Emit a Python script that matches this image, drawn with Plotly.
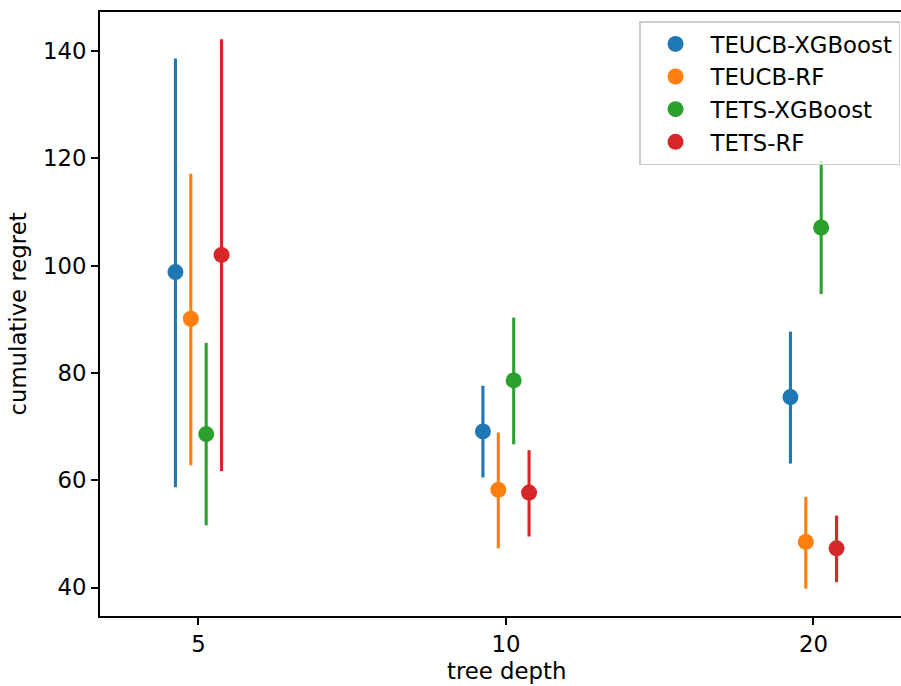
import plotly.graph_objects as go

# Tree depths compared (categorical x axis)
depths = ["5", "10", "20"]
methods = ["TEUCB-XGBoost", "TEUCB-RF", "TETS-XGBoost", "TETS-RF"]
colors = ["#1f77b4", "#ff7f0e", "#2ca02c", "#d62728"]

# Mean cumulative regret per method, one value per tree depth
teucb_xgb_mean = [98.8, 69.1, 75.5]
teucb_rf_mean = [90.1, 58.2, 48.5]
tets_xgb_mean = [68.6, 78.6, 107.1]
tets_rf_mean = [102.0, 57.7, 47.3]

# Confidence interval bounds
teucb_xgb_low = [58.7, 60.5, 63.1]
teucb_xgb_high = [138.6, 77.6, 87.7]
teucb_rf_low = [62.8, 47.3, 39.8]
teucb_rf_high = [117.1, 68.9, 56.9]
tets_xgb_low = [51.6, 66.7, 94.7]
tets_xgb_high = [85.6, 90.3, 119.5]
tets_rf_low = [61.7, 49.5, 41.0]
tets_rf_high = [142.2, 65.6, 53.4]

means = [teucb_xgb_mean, teucb_rf_mean, tets_xgb_mean, tets_rf_mean]
lows = [teucb_xgb_low, teucb_rf_low, tets_xgb_low, tets_rf_low]
highs = [teucb_xgb_high, teucb_rf_high, tets_xgb_high, tets_rf_high]

dodge = 0.15
n = len(methods)
offsets = [-dodge / 2 + dodge * i / (n - 1) for i in range(n)]

FONT = "DejaVu Sans"
FS = 22.8

fig = go.Figure()
for name, color, m, lo, hi, off in zip(methods, colors, means, lows, highs, offsets):
    xs = [i + off for i in range(len(depths))]
    fig.add_trace(go.Scatter(
        x=xs, y=m, mode="markers", name=name,
        marker=dict(color=color, size=16, line=dict(width=0)),
        error_y=dict(
            type="data", symmetric=False,
            array=[h - v for h, v in zip(hi, m)],
            arrayminus=[v - l for v, l in zip(m, lo)],
            color=color, thickness=3.1, width=0,
        ),
    ))

# x-axis title, centred on the full axes span
fig.add_annotation(
    text="tree depth", xref="paper", yref="paper",
    x=0.5075, y=-0.0915, xanchor="center", yanchor="middle",
    showarrow=False, font=dict(family=FONT, size=FS, color="black"),
)

fig.update_layout(
    width=901, height=686,
    margin=dict(l=100, r=0, t=12, b=70),
    plot_bgcolor="white", paper_bgcolor="white",
    font=dict(family=FONT, size=FS, color="black"),
    showlegend=True,
    legend=dict(
        x=0.9988, y=0.985, xanchor="right", yanchor="top",
        bgcolor="rgba(255,255,255,0.8)", bordercolor="#cccccc", borderwidth=1.5,
        font=dict(family=FONT, size=FS, color="black"),
        tracegroupgap=0, itemwidth=60,
    ),
    xaxis=dict(
        range=[-0.3203, 2.2846],
        tickvals=list(range(len(depths))), ticktext=depths,
        showgrid=False, zeroline=False,
        showline=True, linecolor="black", linewidth=1.6, mirror=True,
        ticks="outside", ticklen=7, tickwidth=1.6, tickcolor="black",
        tickfont=dict(family=FONT, size=FS),
    ),
    yaxis=dict(
        range=[34.69, 147.27],
        tickvals=[40, 60, 80, 100, 120, 140],
        showgrid=False, zeroline=False,
        showline=True, linecolor="black", linewidth=1.6,
        ticks="outside", ticklen=7, tickwidth=1.6, tickcolor="black",
        title=dict(text="cumulative regret", standoff=10,
                   font=dict(family=FONT, size=FS)),
        tickfont=dict(family=FONT, size=FS),
    ),
)

fig.write_html("out.html")
